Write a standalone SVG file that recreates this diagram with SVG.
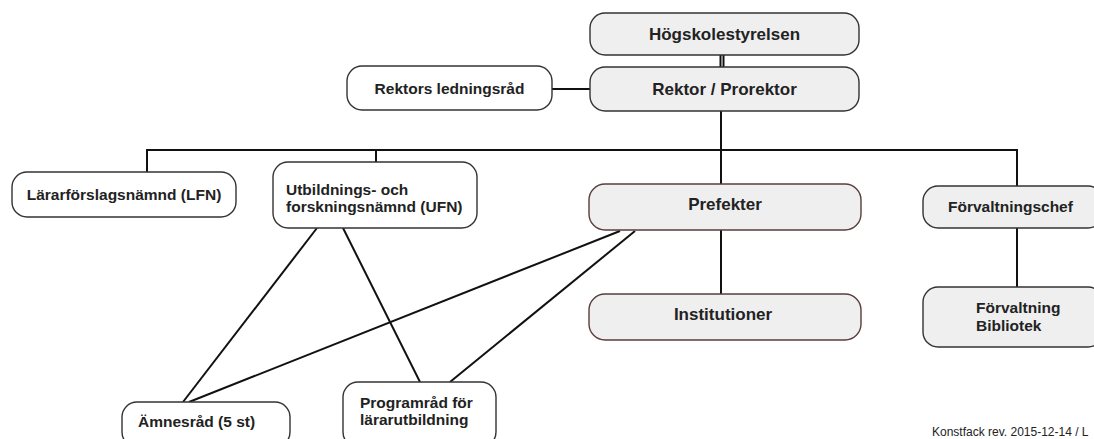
<svg xmlns="http://www.w3.org/2000/svg" width="1094" height="439" viewBox="0 0 1094 439">
<style>
.box{stroke:#333;stroke-width:1.4}
.g{fill:#efeff0}
.w{fill:#fff}
.br{stroke:#5a3c3c}
.t{font-family:"Liberation Sans",Arial,sans-serif;font-weight:bold;fill:#222}
.l{font-size:17px}
.s{font-size:15.5px}
.c{stroke:#111;stroke-width:2;fill:none}
</style>
<rect width="1094" height="439" fill="#fff"/>
<g id="connectors">
<line class="c" x1="720.5" y1="55" x2="720.5" y2="67" stroke-width="1.6"/>
<line class="c" x1="723.5" y1="55" x2="723.5" y2="67" stroke-width="1.6"/>
<line class="c" x1="552" y1="89" x2="590" y2="89"/>
<line class="c" x1="721" y1="111" x2="721" y2="184"/>
<polyline class="c" points="147,172 147,150 1017,150 1017,186"/>
<line class="c" x1="376" y1="150" x2="376" y2="162"/>
<line class="c" x1="721" y1="230" x2="721" y2="294"/>
<line class="c" x1="1017" y1="228" x2="1017" y2="287"/>
<line class="c" x1="317" y1="228" x2="183" y2="402"/>
<line class="c" x1="343" y1="228" x2="420" y2="382"/>
<line class="c" x1="620" y1="231" x2="189" y2="402"/>
<line class="c" x1="635" y1="231" x2="450" y2="382"/>
</g>
<g id="hogskolestyrelsen">
<rect class="box g" x="590" y="13" width="269" height="42" rx="15"/>
<text class="t l" x="724.5" y="40" text-anchor="middle">Högskolestyrelsen</text>
</g>
<g id="rektor">
<rect class="box g" x="590" y="67" width="269" height="44" rx="15"/>
<text class="t l" x="724.5" y="95" text-anchor="middle">Rektor / Prorektor</text>
</g>
<g id="ledningsrad">
<rect class="box w" x="347" y="66" width="205" height="44" rx="15"/>
<text class="t s" x="449.5" y="94" text-anchor="middle">Rektors ledningsråd</text>
</g>
<g id="lfn">
<rect class="box w" x="12" y="172" width="224" height="45" rx="15"/>
<text class="t s" x="124" y="200" text-anchor="middle">Lärarförslagsnämnd (LFN)</text>
</g>
<g id="ufn">
<rect class="box w" x="273" y="162" width="204" height="66" rx="15"/>
<text class="t s" x="286" y="195">Utbildnings- och</text>
<text class="t s" x="286" y="212">forskningsnämnd (UFN)</text>
</g>
<g id="prefekter">
<rect class="box g br" x="589" y="184" width="272" height="46" rx="16"/>
<text class="t l" x="725" y="210" text-anchor="middle">Prefekter</text>
</g>
<g id="institutioner">
<rect class="box g br" x="589" y="294" width="272" height="46" rx="16"/>
<text class="t l" x="723" y="320" text-anchor="middle">Institutioner</text>
</g>
<g id="forvaltningschef">
<rect class="box g" x="923" y="186" width="180" height="42" rx="15"/>
<text class="t s" x="948" y="212">Förvaltningschef</text>
</g>
<g id="forvaltning">
<rect class="box g" x="923" y="287" width="180" height="60" rx="15"/>
<text class="t s" x="976" y="313">Förvaltning</text>
<text class="t s" x="976" y="331">Bibliotek</text>
</g>
<g id="amnesrad">
<rect class="box w" x="122" y="402" width="168" height="45" rx="15"/>
<text class="t s" x="138" y="427">Ämnesråd (5 st)</text>
</g>
<g id="programrad">
<rect class="box w" x="343" y="382" width="153" height="65" rx="15"/>
<text class="t s" x="360" y="408">Programråd för</text>
<text class="t s" x="360" y="425">lärarutbildning</text>
</g>
<text x="932" y="436" font-family="'Liberation Sans',Arial,sans-serif" font-size="12" fill="#222">Konstfack rev. 2015-12-14 / L</text>
</svg>
